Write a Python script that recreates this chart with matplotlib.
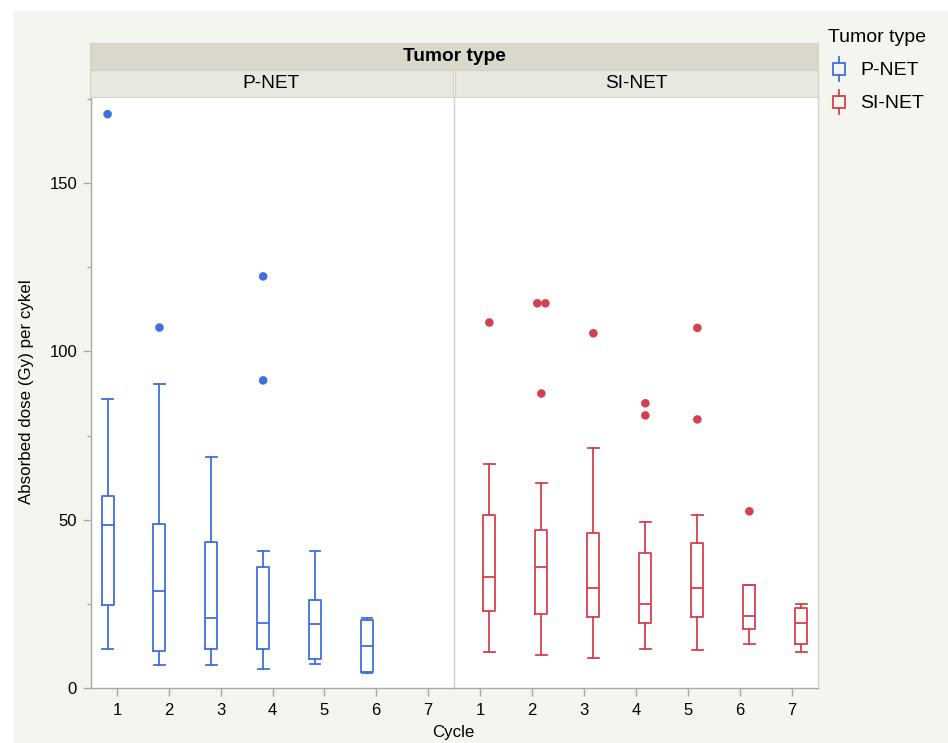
import matplotlib.pyplot as plt
from matplotlib.legend_handler import HandlerBase
from matplotlib.lines import Line2D
from matplotlib.patches import Rectangle

plt.rcParams['font.family'] = ['Liberation Sans', 'DejaVu Sans']

W, H = 948, 743

cycles = [1, 2, 3, 4, 5, 6, 7]
tumor_types = ["P-NET", "SI-NET"]
colors = {"P-NET": "#3f6fe0", "SI-NET": "#d5404f"}

# P-NET summaries per cycle
pnet_cycles = [1, 2, 3, 4, 5, 6]
pnet_whislo = [11.7, 6.9, 6.9, 5.5, 7.2, 4.6]
pnet_q1 = [24.7, 10.9, 11.7, 11.7, 8.5, 4.9]
pnet_med = [48.5, 28.8, 20.7, 19.3, 18.9, 12.6]
pnet_q3 = [56.9, 48.8, 43.5, 35.9, 26.0, 20.1]
pnet_whishi = [86.0, 90.2, 68.5, 40.8, 40.8, 20.7]
pnet_outliers = [[170.5], [107.1], [], [122.3, 91.4], [], []]

# SI-NET summaries per cycle
sinet_cycles = [1, 2, 3, 4, 5, 6, 7]
sinet_whislo = [10.8, 9.9, 9.0, 11.7, 11.2, 13.1, 10.8]
sinet_q1 = [23.0, 21.9, 21.1, 19.3, 21.1, 17.6, 13.0]
sinet_med = [33.1, 35.9, 29.7, 25.1, 29.7, 21.5, 19.3]
sinet_q3 = [51.5, 47.0, 46.1, 40.0, 43.1, 30.5, 23.7]
sinet_whishi = [66.7, 60.9, 71.4, 49.3, 51.5, 30.5, 25.1]
sinet_outliers = [[108.6], [114.3, 114.3, 87.5], [105.4], [84.6, 81.0],
                  [107.0, 79.8], [52.5], []]

groups = {
    "P-NET": (pnet_cycles, pnet_whislo, pnet_q1, pnet_med, pnet_q3, pnet_whishi, pnet_outliers),
    "SI-NET": (sinet_cycles, sinet_whislo, sinet_q1, sinet_med, sinet_q3, sinet_whishi, sinet_outliers),
}
offsets = {"P-NET": -0.18, "SI-NET": 0.18}
box_width = 0.23


def frac(x0, y0, x1, y1):
    return [x0 / W, 1 - y1 / H, (x1 - x0) / W, (y1 - y0) / H]


class BoxHandler(HandlerBase):
    # small box-and-whisker glyph for the legend
    def create_artists(self, legend, orig_handle, xdescent, ydescent,
                       width, height, fontsize, trans):
        c = orig_handle.get_color()
        cx = width / 2 - xdescent
        bw = 0.6 * fontsize
        yc = (height - ydescent) / 2 - 0.1 * fontsize
        hb = 0.3 * fontsize
        hw = 0.62 * fontsize
        box = Rectangle((cx - bw / 2, yc - hb), bw, 2 * hb,
                        facecolor="none", edgecolor=c, lw=1.3, transform=trans)
        lo = Line2D([cx, cx], [yc - hw, yc - hb], color=c, lw=1.3, transform=trans)
        hi = Line2D([cx, cx], [yc + hb, yc + hw], color=c, lw=1.3, transform=trans)
        return [box, lo, hi]


fig = plt.figure(figsize=(W / 100, H / 100), dpi=100, facecolor="white")
fig.patches.append(Rectangle((14 / W, 0), 1, 1 - 11 / H, transform=fig.transFigure,
                             facecolor="#f5f5f0", edgecolor="none", zorder=-10))

ax_l = fig.add_axes(frac(91, 97, 454, 688))
ax_r = fig.add_axes(frac(454, 97, 818, 688), sharey=ax_l)
panels = {"P-NET": ax_l, "SI-NET": ax_r}

for name, ax in panels.items():
    cyc, wlo, q1, med, q3, whi, outl = groups[name]
    color = colors[name]
    stats = []
    for i in range(len(cyc)):
        stats.append({"whislo": wlo[i], "q1": q1[i], "med": med[i],
                      "q3": q3[i], "whishi": whi[i], "fliers": []})
    pos = [c + offsets[name] for c in cyc]
    lp = dict(color=color, linewidth=1.3)
    ax.bxp(stats, positions=pos, widths=box_width, showfliers=False,
           boxprops=lp, whiskerprops=lp, capprops=lp, medianprops=lp,
           capwidths=box_width * 0.9, manage_ticks=False)
    # outliers, spreading repeated values sideways
    for p, vals in zip(pos, outl):
        seen = {}
        for v in vals:
            seen[v] = seen.get(v, 0) + 1
        for v, n in seen.items():
            xs = [p + (k - (n - 1) / 2) * 0.155 for k in range(n)]
            ax.scatter(xs, [v] * n, s=38, color=color, edgecolors="none", zorder=3)

    ax.set_xlim(0.5, 7.5)
    ax.set_xticks(cycles)
    ax.set_xticklabels([str(c) for c in cycles])
    ax.set_facecolor("white")
    ax.tick_params(axis="x", length=6, width=1, color="#a8a8a8", labelsize=12, pad=5)
    for s in ax.spines.values():
        s.set_color("#d0d0d0")
        s.set_linewidth(1)
    ax.spines["bottom"].set_color("#a8a8a8")
    ax.spines["top"].set_visible(False)

ax_l.spines["right"].set_visible(False)
ax_l.spines["left"].set_color("#a8a8a8")
ax_l.set_ylim(0, 175.6)
ax_l.set_yticks([0, 50, 100, 150])
ax_l.set_yticks([25, 75, 125, 175], minor=True)
ax_l.tick_params(axis="y", which="major", length=6, width=1, color="#a8a8a8", labelsize=12, pad=4)
ax_l.tick_params(axis="y", which="minor", length=3, width=1, color="#a8a8a8")
ax_r.tick_params(axis="y", which="both", left=False, labelleft=False)

# facet headers
ax_head = fig.add_axes(frac(90, 43, 818, 70))
ax_head.set_facecolor("#d9d8cb")
ax_head.text(0.5, 0.5, "Tumor type", ha="center", va="center", fontsize=13.8,
             fontweight="bold", transform=ax_head.transAxes)
sub_boxes = {"P-NET": (90, 453), "SI-NET": (455, 818)}
for name, (x0, x1) in sub_boxes.items():
    a = fig.add_axes(frac(x0, 70, x1, 97))
    a.set_facecolor("#e8e8e0")
    a.text(0.5, 0.5, name, ha="center", va="center", fontsize=13.8, transform=a.transAxes)
for a in fig.axes[2:]:
    a.set_xticks([])
    a.set_yticks([])
    for s in a.spines.values():
        s.set_color("#d4d3c6")

fig.text(27 / W, 1 - 392 / H, "Absorbed dose (Gy) per cykel", rotation=90,
         ha="center", va="center", fontsize=12.2)
fig.text(453 / W, 1 - 732 / H, "Cycle", ha="center", va="center", fontsize=12.2)

handles = [Line2D([], [], color=colors[t]) for t in tumor_types]
leg = fig.legend(handles, tumor_types, loc="upper left",
                 bbox_to_anchor=(811 / W, 1 - 12 / H), frameon=False,
                 title="Tumor type", title_fontsize=14, fontsize=14,
                 handler_map={Line2D: BoxHandler()}, handlelength=1.1,
                 handleheight=1.25, labelspacing=0.62, handletextpad=0.55,
                 alignment="left")

fig.savefig("out.png", dpi=100, facecolor=fig.get_facecolor())
